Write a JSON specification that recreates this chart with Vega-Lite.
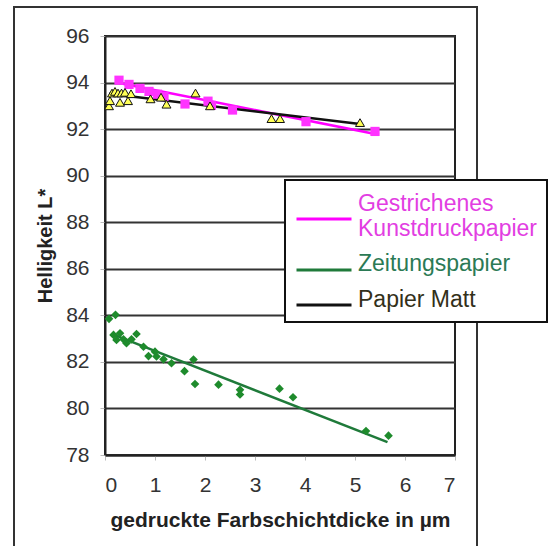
{
  "$schema": "https://vega.github.io/schema/vega-lite/v6.json",
  "width": 350,
  "height": 419,
  "autosize": "none",
  "padding": {"left": 105, "top": 36, "right": 98, "bottom": 91},
  "background": "white",
  "config": {
    "font": "Liberation Sans",
    "view": {"stroke": "#222", "strokeWidth": 2}
  },
  "datasets": {
    "points": [
      {"series": "Gestrichenes Kunstdruckpapier", "x": 0.28, "y": 94.1},
      {"series": "Gestrichenes Kunstdruckpapier", "x": 0.48, "y": 93.92},
      {"series": "Gestrichenes Kunstdruckpapier", "x": 0.7, "y": 93.75},
      {"series": "Gestrichenes Kunstdruckpapier", "x": 0.88, "y": 93.62},
      {"series": "Gestrichenes Kunstdruckpapier", "x": 1.05, "y": 93.5},
      {"series": "Gestrichenes Kunstdruckpapier", "x": 1.18, "y": 93.4},
      {"series": "Gestrichenes Kunstdruckpapier", "x": 1.6, "y": 93.08},
      {"series": "Gestrichenes Kunstdruckpapier", "x": 2.06, "y": 93.2},
      {"series": "Gestrichenes Kunstdruckpapier", "x": 2.13, "y": 93.02},
      {"series": "Gestrichenes Kunstdruckpapier", "x": 2.55, "y": 92.82},
      {"series": "Gestrichenes Kunstdruckpapier", "x": 4.02, "y": 92.32},
      {"series": "Gestrichenes Kunstdruckpapier", "x": 5.4, "y": 91.9},
      {"series": "Papier Matt", "x": 0.08, "y": 93.0},
      {"series": "Papier Matt", "x": 0.1, "y": 93.22},
      {"series": "Papier Matt", "x": 0.14, "y": 93.55},
      {"series": "Papier Matt", "x": 0.2, "y": 93.62},
      {"series": "Papier Matt", "x": 0.26, "y": 93.55},
      {"series": "Papier Matt", "x": 0.3, "y": 93.15},
      {"series": "Papier Matt", "x": 0.33, "y": 93.55},
      {"series": "Papier Matt", "x": 0.4, "y": 93.58},
      {"series": "Papier Matt", "x": 0.46, "y": 93.22},
      {"series": "Papier Matt", "x": 0.52, "y": 93.52},
      {"series": "Papier Matt", "x": 0.91, "y": 93.3},
      {"series": "Papier Matt", "x": 1.12, "y": 93.37},
      {"series": "Papier Matt", "x": 1.23, "y": 93.07},
      {"series": "Papier Matt", "x": 1.81, "y": 93.55},
      {"series": "Papier Matt", "x": 2.1, "y": 93.0},
      {"series": "Papier Matt", "x": 3.33, "y": 92.45},
      {"series": "Papier Matt", "x": 3.5, "y": 92.45},
      {"series": "Papier Matt", "x": 5.1, "y": 92.28},
      {"series": "Zeitungspapier", "x": 0.08, "y": 83.85},
      {"series": "Zeitungspapier", "x": 0.21, "y": 84.02},
      {"series": "Zeitungspapier", "x": 0.17, "y": 83.16},
      {"series": "Zeitungspapier", "x": 0.3, "y": 83.23},
      {"series": "Zeitungspapier", "x": 0.23, "y": 82.94},
      {"series": "Zeitungspapier", "x": 0.37, "y": 82.97},
      {"series": "Zeitungspapier", "x": 0.43, "y": 82.8},
      {"series": "Zeitungspapier", "x": 0.53, "y": 82.97},
      {"series": "Zeitungspapier", "x": 0.63, "y": 83.2},
      {"series": "Zeitungspapier", "x": 0.77, "y": 82.65},
      {"series": "Zeitungspapier", "x": 0.87, "y": 82.25},
      {"series": "Zeitungspapier", "x": 1.0, "y": 82.44},
      {"series": "Zeitungspapier", "x": 1.03, "y": 82.23},
      {"series": "Zeitungspapier", "x": 1.17, "y": 82.11},
      {"series": "Zeitungspapier", "x": 1.33, "y": 81.94},
      {"series": "Zeitungspapier", "x": 1.59, "y": 81.6},
      {"series": "Zeitungspapier", "x": 1.77, "y": 82.1},
      {"series": "Zeitungspapier", "x": 1.8, "y": 81.05},
      {"series": "Zeitungspapier", "x": 2.27, "y": 81.02},
      {"series": "Zeitungspapier", "x": 2.7, "y": 80.8},
      {"series": "Zeitungspapier", "x": 2.7, "y": 80.6},
      {"series": "Zeitungspapier", "x": 3.49, "y": 80.85},
      {"series": "Zeitungspapier", "x": 3.76, "y": 80.48},
      {"series": "Zeitungspapier", "x": 5.22, "y": 79.03},
      {"series": "Zeitungspapier", "x": 5.67, "y": 78.83}
    ],
    "trend": [
      {"series": "Gestrichenes Kunstdruckpapier", "x": 0.28, "y": 93.98},
      {"series": "Gestrichenes Kunstdruckpapier", "x": 5.48, "y": 91.76},
      {"series": "Zeitungspapier", "x": 0.13, "y": 83.2},
      {"series": "Zeitungspapier", "x": 5.65, "y": 78.55},
      {"series": "Papier Matt", "x": 0.08, "y": 93.52},
      {"series": "Papier Matt", "x": 5.1, "y": 92.22}
    ]
  },
  "layer": [
    {
      "data": {"values": [{}]},
      "mark": {"type": "rect", "filled": false, "stroke": "#333", "strokeWidth": 2, "clip": false},
      "encoding": {
        "x": {"datum": -1.82, "type": "quantitative", "scale": {"domain": [0, 7], "nice": false}},
        "x2": {"datum": 7.44},
        "y": {"datum": 97.25, "type": "quantitative", "scale": {"domain": [78, 96], "nice": false}},
        "y2": {"datum": 73.5}
      }
    },
    {
      "data": {"name": "trend"},
      "mark": {"type": "line", "strokeWidth": 2.5},
      "encoding": {
        "x": {
          "field": "x", "type": "quantitative",
          "scale": {"domain": [0, 7], "nice": false},
          "axis": {
            "values": [0, 1, 2, 3, 4, 5, 6, 7],
            "grid": false,
            "title": "gedruckte Farbschichtdicke in µm",
            "titleFontSize": 21, "titleFontWeight": "bold", "titleColor": "#222", "titlePadding": 14,
            "labelFontSize": 21, "labelColor": "#333", "labelPadding": 14, "labelFontWeight": "normal",
            "tickSize": 5, "tickColor": "#bbb",
            "domainColor": "#222", "domainWidth": 2
          }
        },
        "y": {
          "field": "y", "type": "quantitative",
          "scale": {"domain": [78, 96], "nice": false},
          "axis": {
            "values": [78, 80, 82, 84, 86, 88, 90, 92, 94, 96],
            "grid": true, "gridColor": "#333", "gridWidth": 1.8,
            "title": "Helligkeit L*",
            "titleFontSize": 20, "titleFontWeight": "bold", "titleColor": "#222", "titlePadding": 10,
            "labelFontSize": 21, "labelColor": "#333", "labelPadding": 11,
            "tickSize": 5, "tickColor": "#bbb",
            "domainColor": "#222", "domainWidth": 2
          }
        },
        "color": {
          "field": "series", "type": "nominal",
          "scale": {
            "domain": ["Gestrichenes Kunstdruckpapier", "Zeitungspapier", "Papier Matt"],
            "range": ["#ff00ff", "#1f7a3a", "#111111"]
          },
          "legend": {
            "orient": "none", "legendX": 180, "legendY": 144,
            "title": null,
            "symbolType": "stroke", "symbolSize": 3025, "symbolStrokeWidth": 3,
            "labelFont": "Liberation Sans", "labelFontSize": 23, "labelOffset": 5, "labelLimit": 400,
            "rowPadding": 0, "padding": 10,
            "fillColor": "white", "strokeColor": "#111",
            "labelExpr": "datum.label == 'Gestrichenes Kunstdruckpapier' ? ['Gestrichenes', 'Kunstdruckpapier'] : datum.label",
            "encode": {
              "labels": {"update": {
                "fill": {"signal": "datum.value == 'Zeitungspapier' ? '#2b7a55' : datum.value == 'Papier Matt' ? '#33301a' : '#e23ee2'"},
                "dy": {"signal": "datum.value == 'Gestrichenes Kunstdruckpapier' ? -15 : datum.value == 'Zeitungspapier' ? -6 : -5"}
              }},
              "symbols": {"update": {
                "dy": {"signal": "datum.value == 'Gestrichenes Kunstdruckpapier' ? -3 : datum.value == 'Zeitungspapier' ? -6 : -5"}
              }},
              "legend": {"update": {"strokeWidth": {"value": 2}}}
            }
          }
        }
      }
    },
    {
      "data": {"name": "points"},
      "transform": [{"filter": "datum.series == 'Gestrichenes Kunstdruckpapier'"}],
      "mark": {"type": "point", "shape": "square", "filled": true, "color": "#ff33ff", "size": 85, "opacity": 1},
      "encoding": {
        "x": {"field": "x", "type": "quantitative"},
        "y": {"field": "y", "type": "quantitative"}
      }
    },
    {
      "data": {"name": "points"},
      "transform": [{"filter": "datum.series == 'Zeitungspapier'"}],
      "mark": {"type": "point", "shape": "diamond", "filled": true, "color": "#1e8b2c", "size": 75, "opacity": 1},
      "encoding": {
        "x": {"field": "x", "type": "quantitative"},
        "y": {"field": "y", "type": "quantitative"}
      }
    },
    {
      "data": {"name": "points"},
      "transform": [{"filter": "datum.series == 'Papier Matt'"}],
      "mark": {"type": "point", "shape": "triangle-up", "filled": true, "fill": "#ffff55", "stroke": "#111", "strokeWidth": 1, "size": 80, "opacity": 1},
      "encoding": {
        "x": {"field": "x", "type": "quantitative"},
        "y": {"field": "y", "type": "quantitative"}
      }
    }
  ]
}
